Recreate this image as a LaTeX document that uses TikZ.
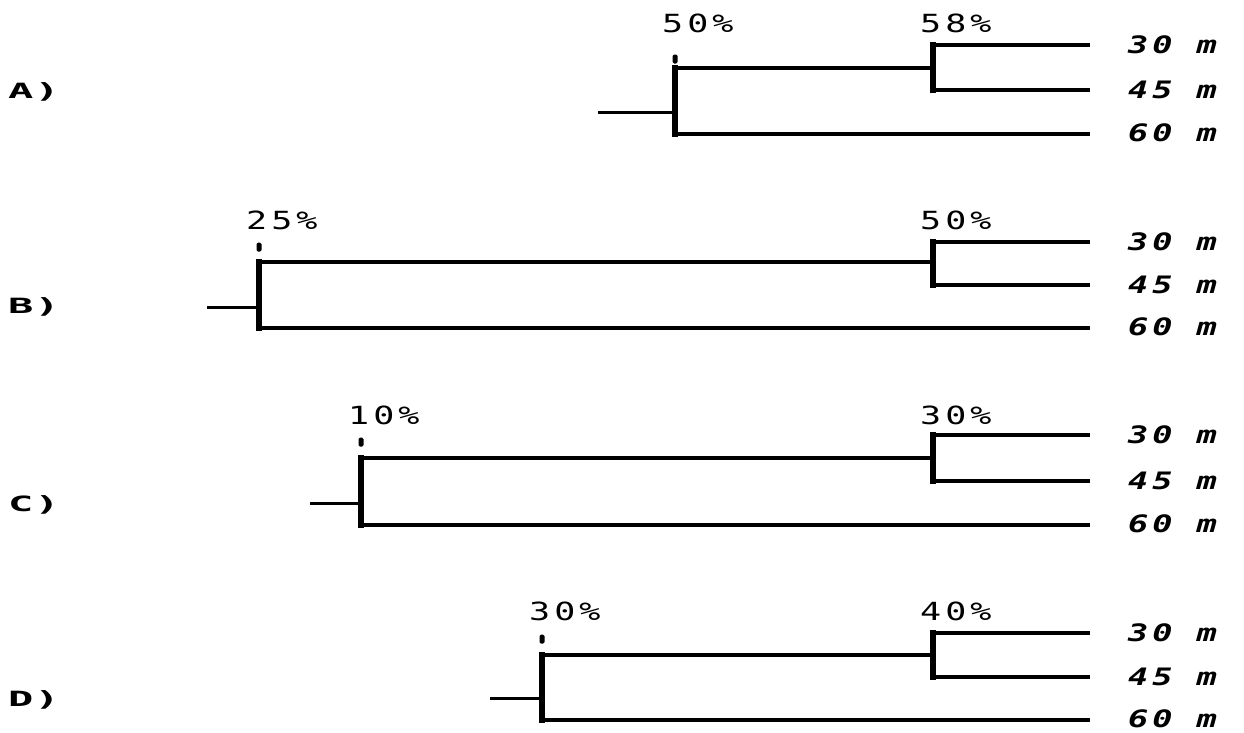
\documentclass[tikz,border=0pt]{standalone}
\usepackage{fontspec}
\newfontfamily\pctfont[FakeStretch=1.4,LetterSpace=16]{DejaVu Sans Mono}
\newfontfamily\tagfont[FakeStretch=2.0,LetterSpace=5]{DejaVu Sans Mono}
\begin{document}
\begin{tikzpicture}[x=1pt,y=-1pt,
  hline/.style={line width=4.5pt,line cap=butt},
  vbar/.style={line width=6.5pt,line cap=rect},
  stubline/.style={line width=3pt},
  pct/.style={font=\pctfont\fontsize{25}{25}\selectfont,anchor=west,inner sep=0pt},
  leaf/.style={font=\pctfont\bfseries\itshape\fontsize{24}{24}\selectfont,anchor=west,inner sep=0pt},
  tag/.style={font=\tagfont\bfseries\fontsize{21}{21}\selectfont,anchor=west,inner sep=0pt},
  dotmark/.style={fill=black,draw=none,minimum width=5pt,minimum height=9pt,inner sep=0pt,rounded corners=1.5pt}]
\useasboundingbox[fill=white] (0,0) rectangle (1244,732);
\foreach \id/\xo/\sx/\sy/\ty/\by/\la/\lb/\dy/\py/\pa/\pb/\ly in {
  A/675/598/112/68/134/45/90/59/23/50/58/92,
  B/259/207/307/262/328/242/285/247/220/25/50/307,
  C/361/310/503/458/525/435/481/442/415/10/30/505,
  D/542/490/698/655/720/633/677/639/611/30/40/700}{
  \coordinate (\id-s) at (\sx,\sy);
  \coordinate (\id-j) at (\xo,\sy);
  \coordinate (\id-t) at (\xo,\ty);
  \coordinate (\id-b) at (\xo,\by);
  \coordinate (\id-k) at (933,\ty);
  \coordinate (\id-u) at (933,\la);
  \coordinate (\id-v) at (933,\lb);
  \coordinate (\id-e1) at (1090,\la);
  \coordinate (\id-e2) at (1090,\lb);
  \coordinate (\id-e3) at (1090,\by);
  \draw[stubline] (\id-s) -- (\id-j);
  \draw[hline] (\id-t) -- (\id-k);
  \draw[hline] (\id-u) -- (\id-e1);
  \draw[hline] (\id-v) -- (\id-e2);
  \draw[hline] (\id-b) -- (\id-e3);
  \draw[vbar] (\id-t) -- (\id-b);
  \draw[vbar] (\id-u) -- (\id-v);
  \node[dotmark] (\id-dot) at (\xo,\dy) {};
  \node[pct] (\id-p1) at (\xo-13,\py) {\pa\%};
  \node[pct] (\id-p2) at (920,\py) {\pb\%};
  \node[leaf] (\id-n1) at (1128,\la) {30 m};
  \node[leaf] (\id-n2) at (1128,\lb) {45 m};
  \node[leaf] (\id-n3) at (1128,\by-1) {60 m};
  \node[tag] (\id-tag) at (8,\ly) {\id)};
}
\end{tikzpicture}
\end{document}
